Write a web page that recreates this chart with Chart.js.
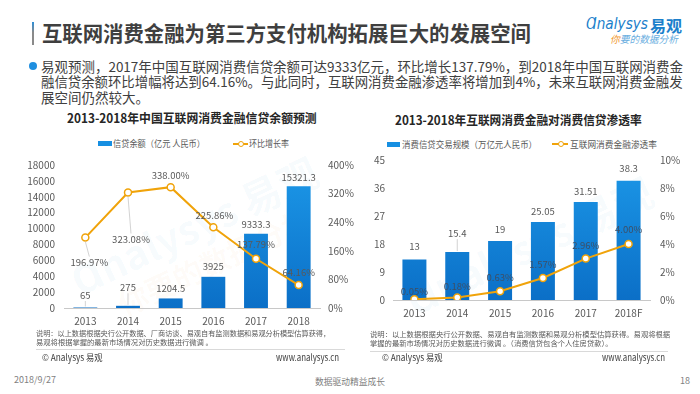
<!DOCTYPE html>
<html lang="zh">
<head>
    <meta charset="utf-8">
    <title>互联网消费金融</title>
    <script src="https://cdn.jsdelivr.net/npm/chart.js@4/dist/chart.umd.min.js"></script>
    <style>
        body { margin: 0; background: #fff; }
        #page { position: relative; width: 700px; height: 394px; overflow: hidden;
            font-family: "Noto Sans CJK SC", "Noto Sans", sans-serif; color: #404040; }
        .t { position: absolute; white-space: nowrap; line-height: 1; transform-origin: 0 50%; }
        .box { position: absolute; }
        .wm { position: absolute; white-space: nowrap; color: rgba(30, 140, 220, 0.04);
            font-weight: bold; transform: rotate(-25deg); transform-origin: 0 0; }
    </style>
    <script>
        // ---- left chart: 信贷余额 ----
        const yearsA = ['2013', '2014', '2015', '2016', '2017', '2018'];
        const creditBalance = [65, 275, 1204.5, 3925, 9333.3, 15321.3];
        const growthRate = [196.97, 323.08, 338.00, 225.86, 137.79, 64.16];

        // ---- right chart: 渗透率 ----
        const yearsB = ['2013', '2014', '2015', '2016', '2017', '2018F'];
        const creditScale = [13, 15.4, 19, 25.05, 31.51, 38.3];
        const penetration = [0.05, 0.18, 0.63, 1.57, 2.96, 4.00];
    </script>
</head>
<body>
<div id="page">
    <!-- header -->
    <div class="box" style="left:32px;top:22px;width:2px;height:23px;background:linear-gradient(#2b8fd8,#8a8a8a 45%);"></div>
    <div class="t" data-w="489" style="left:42px;top:21.5px;font-size:21px;font-weight:bold;color:#3f3f3f;">互联网消费金融为第三方支付机构拓展巨大的发展空间</div>
    <div class="t" data-w="62" style="left:586px;top:17px;font-size:15px;font-style:italic;color:#1b7fcb;font-family:'DejaVu Sans';">Ɑnalysys</div>
    <div class="t" style="left:650px;top:16.5px;font-size:16px;font-weight:bold;color:#1b7fcb;">易观</div>
    <div class="t" data-w="68" style="left:610px;top:34px;font-size:10px;font-style:italic;color:#6aaee0;"><span style="color:#f0962b">你</span>要的数据分析</div>

    <div class="box" style="left:29px;top:62px;width:8px;height:8px;border-radius:50%;background:#1f8fe0;"></div>
    <div class="t" data-w="642" style="left:41px;top:59.5px;font-size:13.5px;">易观预测，2017年中国互联网消费信贷余额可达9333亿元，环比增长137.79%，到2018年中国互联网消费金</div>
    <div class="t" data-w="642" style="left:41px;top:75px;font-size:13.5px;">融信贷余额环比增幅将达到64.16%。与此同时，互联网消费金融渗透率将增加到4%，未来互联网消费金融发</div>
    <div class="t" style="left:41px;top:90.5px;font-size:13.5px;">展空间仍然较大。</div>

    <!-- watermarks -->
    <div class="wm" style="left:60px;top:255px;font-size:40px;">Ɑnalysys 易观</div>
    <div class="wm" style="left:110px;top:285px;font-size:30px;color:rgba(240,150,43,0.04);">你要的数据分析</div>
    <div class="wm" style="left:395px;top:275px;font-size:40px;">Ɑnalysys 易观</div>

    <!-- left chart titles and legend -->
    <div class="t" data-w="250" style="left:67px;top:112px;font-size:12.5px;font-weight:bold;color:#262626;">2013-2018年中国互联网消费金融信贷余额预测</div>
    <div class="box" style="left:98px;top:141px;width:14px;height:5px;background:#168fe2;"></div>
    <div class="t" data-w="92" style="left:113px;top:138.5px;font-size:9px;color:#595959;">信贷余额（亿元 人民币）</div>
    <div class="box" style="left:233px;top:142.5px;width:15px;height:2px;background:#f0a30a;"></div>
    <div class="box" style="left:237.5px;top:140.5px;width:4px;height:4px;border-radius:50%;background:#fff;border:1px solid #f0a30a;"></div>
    <div class="t" data-w="40" style="left:249px;top:138.5px;font-size:9px;color:#595959;">环比增长率</div>

    <!-- right chart titles and legend -->
    <div class="t" data-w="247" style="left:395px;top:113.5px;font-size:12.5px;font-weight:bold;color:#262626;">2013-2018年互联网消费金融对消费信贷渗透率</div>
    <div class="box" style="left:387px;top:141.5px;width:13px;height:5px;background:#168fe2;"></div>
    <div class="t" data-w="135" style="left:402px;top:139.5px;font-size:9px;color:#595959;">消费信贷交易规模（万亿元人民币）</div>
    <div class="box" style="left:552px;top:143px;width:16px;height:2px;background:#f0a30a;"></div>
    <div class="box" style="left:557.5px;top:141px;width:4px;height:4px;border-radius:50%;background:#fff;border:1px solid #f0a30a;"></div>
    <div class="t" data-w="87" style="left:570px;top:139.5px;font-size:9px;color:#595959;">互联网消费金融渗透率</div>

    <div class="box" style="left:20px;top:150px;width:340px;height:180px;"><canvas id="chartA"></canvas></div>
    <div class="box" style="left:355px;top:144px;width:345px;height:180px;"><canvas id="chartB"></canvas></div>

    <!-- notes -->
    <div class="t" data-w="294" style="left:36px;top:330px;font-size:7.3px;color:#595959;">说明：以上数据根据央行公开数据、厂商访谈、易观自有监测数据和易观分析模型估算获得，</div>
    <div class="t" style="left:36px;top:339px;font-size:7.3px;color:#595959;">易观将根据掌握的最新市场情况对历史数据进行微调 。</div>
    <div class="box" style="left:36px;top:349px;width:309px;height:1px;background:#d9d9d9;"></div>
    <div class="t" data-w="61" style="left:42px;top:353px;font-size:9.5px;color:#404040;">© Analysys 易观</div>
    <div class="t" data-w="63" style="left:276px;top:353px;font-size:9.5px;color:#404040;">www.analysys.cn</div>

    <div class="t" data-w="300" style="left:370px;top:331px;font-size:7.3px;color:#595959;">说明：以上数据根据央行公开数据、易观自有监测数据和易观分析模型估算获得。易观将根据</div>
    <div class="t" style="left:370px;top:340px;font-size:7.3px;color:#595959;">掌握的最新市场情况对历史数据进行微调 。（消费信贷包含个人住房贷款）。</div>
    <div class="box" style="left:370px;top:351px;width:298px;height:1px;background:#d9d9d9;"></div>
    <div class="t" data-w="61" style="left:382px;top:352.5px;font-size:9.5px;color:#404040;">© Analysys 易观</div>
    <div class="t" data-w="63" style="left:602px;top:352.5px;font-size:9.5px;color:#404040;">www.analysys.cn</div>

    <!-- footer -->
    <div class="t" style="left:14px;top:375px;font-size:9px;color:#7f7f7f;">2018/9/27</div>
    <div class="t" data-w="70" style="left:315px;top:377px;font-size:9px;color:#7f7f7f;">数据驱动精益成长</div>
    <div class="t" style="left:680px;top:375.5px;font-size:9px;color:#7f7f7f;">18</div>
</div>

<script>
    // squeeze text lines to the widths seen on the slide
    document.querySelectorAll('[data-w]').forEach(function (el) {
        const want = parseFloat(el.dataset.w);
        const have = el.scrollWidth;
        if (have > 0) el.style.transform = 'scaleX(' + (want / have) + ')';
    });

    Chart.defaults.font.family = '"Noto Sans CJK SC", "Noto Sans", sans-serif';
    Chart.defaults.color = '#595959';

    const orange = '#f0a30a';

    function barFill(context) {
        const chart = context.chart;
        const area = chart.chartArea;
        if (!area) return '#168fe2';
        const g = chart.ctx.createLinearGradient(0, area.top, 0, area.bottom);
        g.addColorStop(0, '#1c98e8');
        g.addColorStop(1, '#0b6fc7');
        return g;
    }

    // draws the value text next to bars and points
    const valueLabels = {
        id: 'valueLabels',
        afterDatasetsDraw(chart) {
            const ctx = chart.ctx;
            ctx.save();
            ctx.font = '9.5px "Noto Sans CJK SC", sans-serif';
            ctx.textAlign = 'center';
            ctx.textBaseline = 'middle';
            chart.data.datasets.forEach(function (ds, i) {
                const cfg = ds.labelCfg;
                if (!cfg) return;
                const meta = chart.getDatasetMeta(i);
                meta.data.forEach(function (el, j) {
                    const lx = el.x + (cfg.dx ? cfg.dx[j] : 0);
                    const ly = el.y - cfg.dy[j];
                    if (cfg.leader && cfg.leader[j]) {
                        ctx.strokeStyle = '#c8c8c8';
                        ctx.lineWidth = 0.8;
                        ctx.beginPath();
                        const below = cfg.dy[j] < 0;
                        ctx.moveTo(el.x, el.y + (below ? 4 : -1));
                        ctx.lineTo(lx, ly + (below ? -6 : 6));
                        ctx.stroke();
                    }
                    ctx.fillStyle = cfg.color || '#595959';
                    ctx.fillText(cfg.fmt(ds.data[j]), lx, ly);
                });
            });
            ctx.restore();
        }
    };

    function fixW(w) { return function (scale) { scale.width = w; }; }
    function fixH(h) { return function (scale) { scale.height = h; }; }

    function makeChart(id, labels, bars, line, opt) {
        return new Chart(document.getElementById(id), {
            type: 'bar',
            data: {
                labels: labels,
                datasets: [{
                    type: 'line',
                    data: line,
                    yAxisID: 'y1',
                    order: 0,
                    borderColor: orange,
                    borderWidth: 2,
                    pointRadius: 3.5,
                    pointBorderWidth: 1.5,
                    pointBackgroundColor: '#fff',
                    pointBorderColor: orange,
                    tension: 0,
                    labelCfg: opt.lineLabels
                }, {
                    data: bars,
                    yAxisID: 'y',
                    order: 1,
                    backgroundColor: barFill,
                    barPercentage: 0.56,
                    categoryPercentage: 1,
                    labelCfg: opt.barLabels
                }]
            },
            options: {
                responsive: true,
                maintainAspectRatio: false,
                animation: false,
                layout: { padding: { top: 10, left: 0, right: 0, bottom: 0 } },
                plugins: { legend: { display: false }, tooltip: { enabled: false } },
                scales: {
                    x: {
                        grid: { display: false, drawTicks: false },
                        border: { color: '#c8c8c8', width: 1 },
                        ticks: { font: { size: 10 }, padding: opt.xPad },
                        afterFit: fixH(opt.xH)
                    },
                    y: {
                        min: 0, max: opt.yMax,
                        grid: { display: false, drawTicks: false },
                        border: { display: false },
                        ticks: {
                            stepSize: opt.yStep, font: { size: 10 }, padding: opt.yPad,
                            callback: function (v) { return String(v); }
                        },
                        afterFit: fixW(opt.yW)
                    },
                    y1: {
                        position: 'right',
                        min: 0, max: opt.y1Max,
                        grid: { display: false, drawTicks: false },
                        border: { display: false },
                        ticks: {
                            stepSize: opt.y1Step, font: { size: 10 }, padding: opt.y1Pad,
                            callback: function (v) { return v + '%'; }
                        },
                        afterFit: fixW(opt.y1W)
                    }
                }
            },
            plugins: [valueLabels]
        });
    }

    makeChart('chartA', yearsA, creditBalance, growthRate, {
        yMax: 18000, yStep: 2000, y1Max: 400, y1Step: 80,
        yW: 44, y1W: 40, yPad: 9, y1Pad: 8, xH: 22, xPad: 7,
        barLabels: {
            fmt: function (v) { return String(v); },
            dy: [12.5, 18.5, 10, 10, 9, 9],
            leader: [true, true, false, false, false, false]
        },
        lineLabels: {
            fmt: function (v) { return v.toFixed(2) + '%'; },
            dx: [4, 3, 0, 1, 0, 0],
            dy: [-25, -47, 12, 12, 14, 13],
            leader: [true, true, false, false, false, false]
        }
    });

    makeChart('chartB', yearsB, creditScale, penetration, {
        yMax: 45, yStep: 9, y1Max: 10, y1Step: 2,
        yW: 38, y1W: 50, yPad: 8, y1Pad: 10, xH: 24, xPad: 7,
        barLabels: {
            fmt: function (v) { return String(v); },
            dy: [12.8, 19, 11.4, 10.7, 11, 12],
            leader: [false, true, false, false, false, false]
        },
        lineLabels: {
            fmt: function (v) { return v.toFixed(2) + '%'; },
            color: '#3d4f66',
            dy: [8, 11, 13.8, 14, 12.8, 14.6]
        }
    });
</script>
</body>
</html>
